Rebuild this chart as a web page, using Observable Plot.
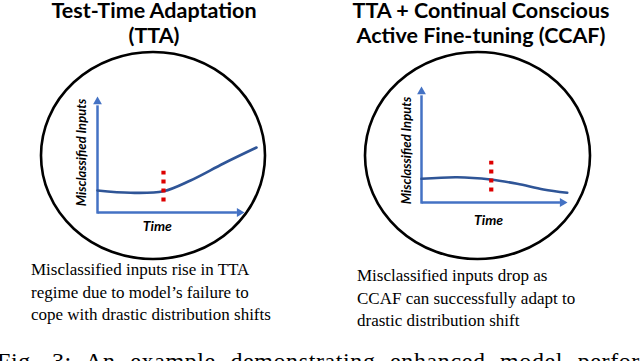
<!DOCTYPE html>
<html>
<head>
<meta charset="utf-8">
<script src="https://cdn.jsdelivr.net/npm/d3@7"></script>
<script src="https://cdn.jsdelivr.net/npm/@observablehq/plot@0.6"></script>
<style>
html,body{margin:0;padding:0;background:#fff;}
#fig{position:relative;width:640px;height:361px;overflow:hidden;background:#fff;}
.panel{position:absolute;top:0;}
.title{position:absolute;font-family:Lato,"Open Sans",sans-serif;font-weight:700;font-size:21.5px;line-height:20px;text-align:center;color:#000;white-space:nowrap;transform:translateX(-50%);}
.cap{position:absolute;font-family:"Liberation Serif","Times New Roman",serif;font-size:17px;line-height:22.5px;color:#000;white-space:nowrap;}
.figcap{position:absolute;left:-3px;font-family:"Liberation Serif","Times New Roman",serif;font-size:24px;line-height:28px;color:#000;white-space:nowrap;word-spacing:8px;letter-spacing:0.6px;}
</style>
</head>
<body>
<div id="fig"></div>
<script>
// ---- data ----
const timeTTA  = [0, 2.26, 4.52, 6.37, 8.63, 10.89];
const missTTA  = [1.93, 1.73, 1.87, 2.81, 4.30, 5.70];
const timeCCAF = [0, 2.46, 4.76, 6.6, 8.41, 10.05];
const missCCAF = [2.08, 2.22, 2.02, 1.64, 1.14, 0.85];
const shiftTime = [4.52, 4.81];          // drastic distribution shift marker
const shiftSpan = [0.92, 3.62];          // extent of the shift marker (misclassified units)
const titles = [["Test-Time Adaptation", "(TTA)"],
                ["TTA + Continual Conscious", "Active Fine-tuning (CCAF)"]];
const captions = [["Misclassified inputs rise in TTA", "regime due to model\u2019s failure to", "cope with drastic distribution shifts"],
                  ["Misclassified inputs drop as", "CCAF can successfully adapt to", "drastic distribution shift"]];
const yLabel = "Misclassified Inputs";
const xLabel = "Time";
const figCaption = "Fig. 3: An example demonstrating enhanced model performance";

// ---- layout / style ----
const axisBlue = "#4472c4", curveBlue = "#2f5597", red = "#dd0000";
const panels = [
  {left: 0,   xRange: [97, 243],  yRange: [212, 98], ell: {cx: 153, cy: 155.5, rx: 112, ry: 103.5},
   ylab: [-1.1, 5.26], xlab: [4.1, -1.25], titleX: 154, capX: 31, capTop: 259},
  {left: 320, xRange: [101, 246], yRange: [202, 88], ell: {cx: 157.5, cy: 155.5, rx: 112.5, ry: 103.5},
   ylab: [-1.03, 4.56], xlab: [4.62, -1.55], titleX: 481, capX: 357, capTop: 265}
];
const titleTops = [0, 25];
const series = [
  timeTTA.map((t, i) => ({t, v: missTTA[i]})),
  timeCCAF.map((t, i) => ({t, v: missCCAF[i]}))
];

const fig = document.getElementById("fig");
const labelFont = "Lato, 'Open Sans', sans-serif";

panels.forEach((p, k) => {
  const ellipseMark = () => {
    const e = document.createElementNS("http://www.w3.org/2000/svg", "ellipse");
    e.setAttribute("cx", p.ell.cx); e.setAttribute("cy", p.ell.cy);
    e.setAttribute("rx", p.ell.rx); e.setAttribute("ry", p.ell.ry);
    e.setAttribute("fill", "none"); e.setAttribute("stroke", "#000"); e.setAttribute("stroke-width", 2.6);
    return e;
  };
  const chart = Plot.plot({
    width: 320, height: 361, margin: 0,
    x: {domain: [0, 10], range: p.xRange, axis: null},
    y: {domain: [0, 10], range: p.yRange, axis: null},
    style: {background: "transparent", overflow: "visible"},
    marks: [
      ellipseMark,
      Plot.link([0], {x1: 0, y1: 0, x2: 9.55, y2: 0, stroke: axisBlue, strokeWidth: 2.5}),
      Plot.link([0], {x1: 0, y1: -0.1, x2: 0, y2: 9.4, stroke: axisBlue, strokeWidth: 2.5}),
      Plot.dot([0], {x: 9.72, y: 0, symbol: "triangle2", r: 4.2, fill: axisBlue, rotate: 90}),
      Plot.dot([0], {x: 0, y: 9.72, symbol: "triangle2", r: 4.2, fill: axisBlue}),
      Plot.line(series[k], {x: "t", y: "v", curve: "catmull-rom", stroke: curveBlue, strokeWidth: 2.6}),
      Plot.ruleX([shiftTime[k]], {x: d => d, y1: shiftSpan[0], y2: shiftSpan[1], stroke: red, strokeWidth: 4.2, strokeDasharray: "4,5"}),
      Plot.text([yLabel], {x: p.ylab[0], y: p.ylab[1], text: d => d, rotate: -90, fontSize: 13, fontStyle: "italic", fontWeight: "bold", fontFamily: labelFont, fill: "#000"}),
      Plot.text([xLabel], {x: p.xlab[0], y: p.xlab[1], text: d => d, fontSize: 14, fontStyle: "italic", fontWeight: "bold", fontFamily: labelFont, fill: "#000"})
    ]
  });
  chart.classList.add("panel");
  chart.style.left = p.left + "px";
  fig.appendChild(chart);

  titles[k].forEach((line, j) => {
    const t = document.createElement("div");
    t.className = "title";
    t.style.left = p.titleX + "px";
    t.style.top = titleTops[j] + "px";
    t.textContent = line;
    fig.appendChild(t);
  });

  const c = document.createElement("div");
  c.className = "cap";
  c.style.left = p.capX + "px";
  c.style.top = p.capTop + "px";
  c.innerHTML = captions[k].join("<br>");
  fig.appendChild(c);
});

const fc = document.createElement("div");
fc.className = "figcap";
fc.style.top = "347px";
fc.textContent = figCaption;
fig.appendChild(fc);
</script>
</body>
</html>
